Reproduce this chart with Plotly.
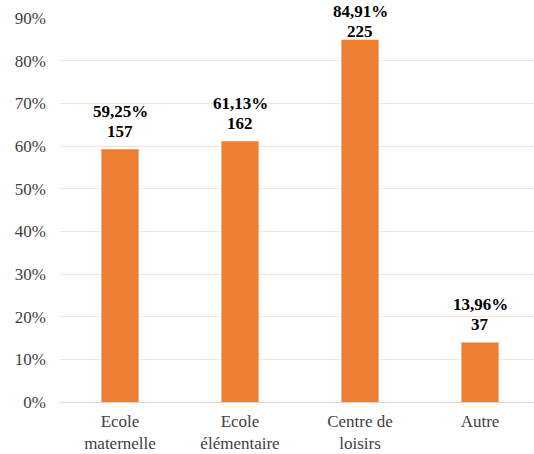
import plotly.graph_objects as go

categories = ["Ecole<br>maternelle", "Ecole<br>élémentaire", "Centre de<br>loisirs", "Autre"]
pct_values = [59.25, 61.13, 84.91, 13.96]
counts = [157, 162, 225, 37]
tick_vals = [0, 10, 20, 30, 40, 50, 60, 70, 80, 90]
tick_text = ["0%", "10%", "20%", "30%", "40%", "50%", "60%", "70%", "80%", "90%"]
label_lift = [6, 6, -3, 6]

pct_labels = [f"<b>{p:.2f}%</b>".replace(".", ",") for p in pct_values]
count_labels = [f"<b>{c}</b>" for c in counts]

SERIF = "Times New Roman"

fig = go.Figure(go.Bar(
    x=list(range(len(categories))),
    y=pct_values,
    width=0.31,
    marker=dict(color="#ED7D31", line=dict(width=0)),
    hoverinfo="skip",
))

for i, (v, pl, cl, s) in enumerate(zip(pct_values, pct_labels, count_labels, label_lift)):
    for txt, extra in ((cl, 0), (pl, 20)):
        fig.add_annotation(
            x=i, y=v, xref="x", yref="y", text=txt, showarrow=False,
            yanchor="bottom", yshift=s + extra, align="center",
            font=dict(family=SERIF, size=17, color="#000000"),
        )

fig.update_layout(
    width=534, height=454,
    margin=dict(l=60, r=0, t=18, b=52, autoexpand=False),
    paper_bgcolor="white", plot_bgcolor="white",
    showlegend=False,
    font=dict(family=SERIF, color="#404040"),
    xaxis=dict(
        range=[-0.5, 3.45],
        tickvals=list(range(len(categories))),
        ticktext=categories,
        tickfont=dict(family=SERIF, size=17, color="#404040"),
        showgrid=False, zeroline=False,
        showline=False, ticks="", automargin=False,
        ticklabelstandoff=7,
    ),
    yaxis=dict(
        range=[0, 90],
        tickvals=tick_vals,
        ticktext=tick_text,
        tickfont=dict(family=SERIF, size=17, color="#404040"),
        showgrid=True, gridcolor="#FBE3D4", gridwidth=1,
        zeroline=True, zerolinecolor="#D9D9D9", zerolinewidth=1,
        ticks="", ticklabelstandoff=13, automargin=False,
    ),
)

fig.write_html("out.html", config={"displayModeBar": False},
               post_script="document.body.style.margin='0';")
